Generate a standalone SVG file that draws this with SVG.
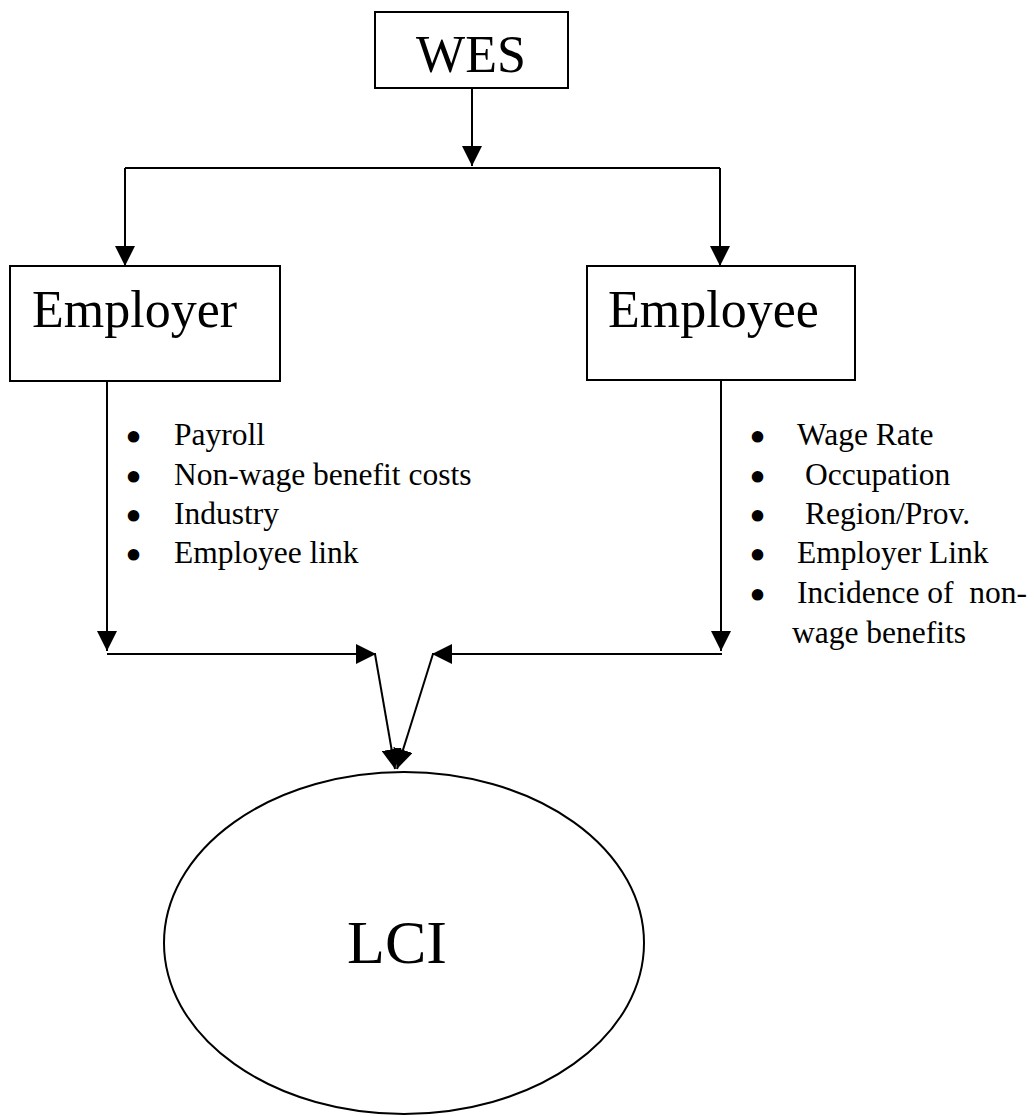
<svg xmlns="http://www.w3.org/2000/svg" width="1034" height="1116" viewBox="0 0 1034 1116">
<style>
.box{fill:#fff;stroke:#000;stroke-width:2}
.ln{fill:none;stroke:#000;stroke-width:2}
.big{font-family:"Liberation Serif","Times New Roman",serif;font-size:52px;fill:#000}
.lci{font-family:"Liberation Serif","Times New Roman",serif;font-size:62px;fill:#000}
.sm{font-family:"Liberation Serif","Times New Roman",serif;font-size:31.5px;fill:#000;white-space:pre}
.bul{font-family:"Liberation Serif","Times New Roman",serif;font-size:31.5px;fill:#000;stroke:#000;stroke-width:4;stroke-linejoin:round;text-anchor:middle}
</style>
<defs>
<marker id="ah" markerUnits="userSpaceOnUse" markerWidth="20" markerHeight="20" refX="20" refY="10" orient="auto" viewBox="0 0 20 20">
<path d="M0,0 L20,10 L0,20 z" fill="#000"/>
</marker>
</defs>
<rect width="1034" height="1116" fill="#fff"/>
<g id="connectors">
<line class="ln" x1="472" y1="88" x2="472" y2="166" marker-end="url(#ah)"/>
<line class="ln" x1="125" y1="168" x2="720" y2="168"/>
<line class="ln" x1="125" y1="168" x2="125" y2="266" marker-end="url(#ah)"/>
<line class="ln" x1="720" y1="168" x2="720" y2="266" marker-end="url(#ah)"/>
<line class="ln" x1="107" y1="381" x2="107" y2="651" marker-end="url(#ah)"/>
<line class="ln" x1="107" y1="654" x2="376" y2="654" marker-end="url(#ah)"/>
<line class="ln" x1="721" y1="380" x2="721" y2="651" marker-end="url(#ah)"/>
<line class="ln" x1="722" y1="654" x2="432" y2="654" marker-end="url(#ah)"/>
<line class="ln" x1="375" y1="654" x2="395" y2="769" marker-end="url(#ah)"/>
<line class="ln" x1="433" y1="654" x2="397" y2="769" marker-end="url(#ah)"/>
</g>
<g id="wes">
<rect class="box" x="375" y="12" width="193" height="76"/>
<text class="big" x="471" y="72" text-anchor="middle">WES</text>
</g>
<g id="employer">
<rect class="box" x="10" y="266" width="270" height="115"/>
<text class="big" x="32" y="327">Employer</text>
</g>
<g id="employee">
<rect class="box" x="587" y="266" width="268" height="114"/>
<text class="big" x="608" y="327">Employee</text>
</g>
<g id="employer-items">
<text class="bul" x="133.5" y="448">•</text><text class="sm" x="174" y="445">Payroll</text>
<text class="bul" x="133.5" y="488">•</text><text class="sm" x="174" y="485">Non-wage benefit costs</text>
<text class="bul" x="133.5" y="527">•</text><text class="sm" x="174" y="524">Industry</text>
<text class="bul" x="133.5" y="566">•</text><text class="sm" x="174" y="563">Employee link</text>
</g>
<g id="employee-items">
<text class="bul" x="757.5" y="448">•</text><text class="sm" x="797" y="445">Wage Rate</text>
<text class="bul" x="757.5" y="488">•</text><text class="sm" x="805" y="485">Occupation</text>
<text class="bul" x="757.5" y="527">•</text><text class="sm" x="805" y="524">Region/Prov.</text>
<text class="bul" x="757.5" y="566">•</text><text class="sm" x="797" y="563">Employer Link</text>
<text class="bul" x="757.5" y="606">•</text><text class="sm" x="797" y="603">Incidence of  non-</text>
<text class="sm" x="792" y="643">wage benefits</text>
</g>
<g id="lci">
<ellipse class="box" cx="404" cy="943" rx="240" ry="171"/>
<text class="lci" x="397" y="963" text-anchor="middle">LCI</text>
</g>
</svg>
